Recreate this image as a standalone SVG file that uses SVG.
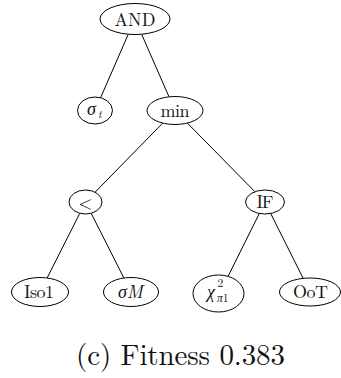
<svg xmlns="http://www.w3.org/2000/svg" width="341" height="378" viewBox="0 0 341 378">
  <style>
    .node ellipse { fill: #fff; stroke: #000; stroke-width: 1; }
    .lbl { font-size: 18px; text-anchor: middle; }
    .sm { font-size: 11.5px; text-anchor: start; }
    .it { font-style: italic; }
    #edges line { stroke: #000; stroke-width: 1; }
    .cap { font-size: 29px; }
  </style>
  <rect width="341" height="378" fill="#fff"/>

  <!-- tree edges, clipped at node borders -->
  <g id="edges">
    <line x1="128.3" y1="34.2" x2="100.6" y2="97.7"/>
    <line x1="141.6" y1="34.2" x2="169" y2="96.8"/>
    <line x1="162.7" y1="123.1" x2="95.1" y2="192.2"/>
    <line x1="187.4" y1="123.1" x2="254.9" y2="191.7"/>
    <line x1="79.8" y1="213.3" x2="47.1" y2="278"/>
    <line x1="91.2" y1="213.3" x2="123.9" y2="278"/>
    <line x1="259.3" y1="213.5" x2="228.2" y2="276.1"/>
    <line x1="270.7" y1="213.5" x2="303.2" y2="278.4"/>
  </g>

  <g font-family="'Latin Modern Roman', 'CMU Serif', 'Liberation Serif', 'DejaVu Serif', 'Noto Serif', 'Tinos', 'FreeSerif', 'Nimbus Roman', 'TeX Gyre Termes', Georgia, serif" fill="#111">
    <g id="n-and" class="node">
      <ellipse cx="135" cy="19" rx="35" ry="15.5"/>
      <text class="lbl" x="135" y="25.5" textLength="41">AND</text>
    </g>

    <g id="n-sigma-t" class="node">
      <ellipse cx="95" cy="110.5" rx="17.5" ry="13.5"/>
      <text class="lbl it" x="91.5" y="115">σ</text>
      <text class="sm it" x="98" y="117.5">t</text>
    </g>

    <g id="n-min" class="node">
      <ellipse cx="175" cy="110.5" rx="28" ry="14"/>
      <text class="lbl" x="175" y="116.5" textLength="29">min</text>
    </g>

    <g id="n-lt" class="node">
      <ellipse cx="85.5" cy="202" rx="16.5" ry="12"/>
      <text class="lbl" x="85.5" y="208.5" font-size="21">&lt;</text>
    </g>

    <g id="n-if" class="node">
      <ellipse cx="265" cy="202" rx="19.5" ry="12"/>
      <text class="lbl" x="265" y="208" textLength="17">IF</text>
    </g>

    <g id="n-iso1" class="node">
      <ellipse cx="40" cy="292" rx="28.5" ry="14.5"/>
      <text class="lbl" x="39" y="298" textLength="30">Iso1</text>
    </g>

    <g id="n-sigma-m" class="node">
      <ellipse cx="131" cy="292" rx="27.5" ry="14.5"/>
      <text class="lbl it" x="130.5" y="298">σM</text>
    </g>

    <g id="n-chi" class="node">
      <ellipse cx="218.5" cy="293.5" rx="25.5" ry="18.5"/>
      <text class="lbl it" x="211" y="297.5">χ</text>
      <text class="sm" x="217.5" y="287">2</text>
      <text class="sm" x="217" y="301.5"><tspan class="it">π</tspan>1</text>
    </g>

    <g id="n-oot" class="node">
      <ellipse cx="310" cy="292" rx="30.5" ry="14"/>
      <text class="lbl" x="310.5" y="298" textLength="35">OoT</text>
    </g>

    <text class="cap" x="76" y="365" textLength="209">(c) Fitness 0.383</text>
  </g>
</svg>
